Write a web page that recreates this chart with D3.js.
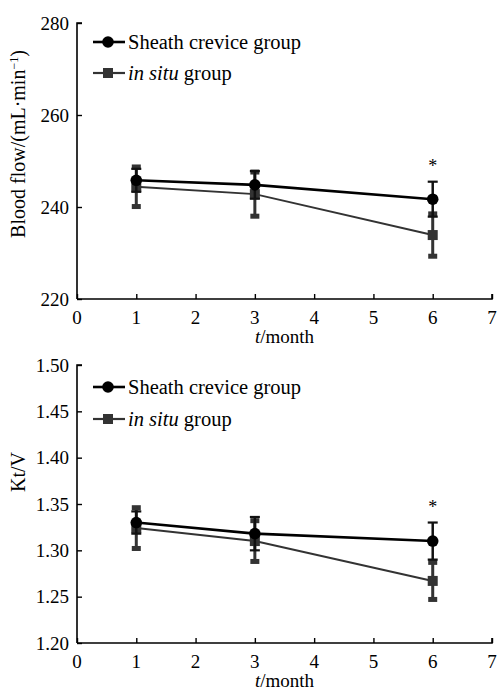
<!DOCTYPE html>
<html><head><meta charset="utf-8">
<script src="https://cdn.jsdelivr.net/npm/d3@7"></script>
<style>
body{margin:0;background:#fff;}
</style></head>
<body><svg id="c" width="499" height="691" font-family="'Liberation Serif', 'DejaVu Serif', 'Times New Roman', Times, serif"></svg>
<script>
const months = [1, 3, 6];
const seriesNames = ["Sheath crevice group", "in situ group"];
// Panel A: Blood flow
const flowSheath = [245.8, 244.8, 241.7];
const flowSheathErr = [2.5, 3.0, 3.8];
const flowInsitu = [244.4, 242.8, 233.9];
const flowInsituErr = [4.3, 4.8, 4.6];
// Panel B: Kt/V
const ktvSheath = [1.330, 1.318, 1.310];
const ktvSheathErr = [0.012, 0.018, 0.020];
const ktvInsitu = [1.324, 1.310, 1.267];
const ktvInsituErr = [0.022, 0.022, 0.020];
const xTicks = [0,1,2,3,4,5,6,7];
const flowTicks = [220, 240, 260, 280];
const ktvTicks = [1.20,1.25,1.30,1.35,1.40,1.45,1.50];
const sigMonth = [6];

const FONT = "'Liberation Serif', 'DejaVu Serif', 'Times New Roman', Times, serif";
const svg = d3.select("#c");
const x = d3.scaleLinear().domain([0,7]).range([77,492]);

function panel(cfg){
  const y = d3.scaleLinear().domain(cfg.domain).range(cfg.range);
  const g = svg.append("g").attr("font-family",FONT);
  // axes
  const yAx = g.append("g").attr("transform","translate(77,0)")
    .call(d3.axisRight(y).tickValues(cfg.ticks).tickSize(5).tickFormat(cfg.fmt));
  yAx.selectAll("text").remove();
  yAx.select(".domain").attr("stroke-width",1.6).attr("d",`M5,${cfg.range[1]}H0V${cfg.range[0]}`);
  yAx.selectAll(".tick line").attr("stroke-width",1.4);
  g.selectAll(".ylab").data(cfg.ticks).join("text")
    .attr("x",69).attr("y",d=>y(d)).attr("dy","0.35em").attr("font-family",FONT)
    .attr("text-anchor","end").attr("font-size",19).text(cfg.fmt);
  const xAx = g.append("g").attr("transform",`translate(0,${cfg.range[0]})`)
    .call(d3.axisTop(x).tickValues(xTicks).tickSize(5).tickFormat(""));
  xAx.select(".domain").attr("stroke-width",1.6).attr("d",`M77,0H492V-5`);
  xAx.selectAll(".tick line").attr("stroke-width",1.4);
  g.selectAll(".xlab").data(xTicks).join("text")
    .attr("x",d=>x(d)).attr("y",cfg.range[0]+18).attr("dy","0.35em").attr("font-family",FONT)
    .attr("text-anchor","middle").attr("font-size",19).text(d=>d);
  const xt = g.append("text").attr("x",x(3.5)).attr("y",cfg.range[0]+37).attr("dy","0.35em")
    .attr("text-anchor","middle").attr("font-size",19).attr("font-family",FONT);
  xt.append("tspan").attr("font-style","italic").text("t");
  xt.append("tspan").text("/month");
  // y title
  const yt = g.append("text").attr("transform",`translate(25,${cfg.ytitleY}) rotate(-90)`)
    .attr("text-anchor","middle").attr("font-size",20).attr("font-family",FONT);
  cfg.ytitle(yt);

  const dIn = months.map((m,i)=>({m,v:cfg.insitu[i],e:cfg.insituErr[i]}));
  const dSh = months.map((m,i)=>({m,v:cfg.sheath[i],e:cfg.sheathErr[i]}));
  const line = d3.line().x(d=>x(d.m)).y(d=>y(d.v));
  const gray = "#333";
  // in situ series
  g.selectAll(".ein").data(dIn).join("line")
    .attr("x1",d=>x(d.m)).attr("x2",d=>x(d.m))
    .attr("y1",d=>y(d.v-d.e)).attr("y2",d=>y(d.v+d.e))
    .attr("stroke",gray).attr("stroke-width",3);
  dIn.forEach(d=>{
    [d.v-d.e,d.v+d.e].forEach(v=>{
      g.append("rect").attr("x",x(d.m)-4.5).attr("y",y(v)-2.5).attr("width",9).attr("height",5).attr("fill",gray);
    });
  });
  g.append("path").datum(dIn).attr("d",line).attr("fill","none").attr("stroke",gray).attr("stroke-width",2);
  g.selectAll(".min").data(dIn).join("rect")
    .attr("x",d=>x(d.m)-5).attr("y",d=>y(d.v)-5).attr("width",10).attr("height",10).attr("fill",gray);
  // sheath series
  g.selectAll(".esh").data(dSh).join("line")
    .attr("x1",d=>x(d.m)).attr("x2",d=>x(d.m))
    .attr("y1",d=>y(d.v-d.e)).attr("y2",d=>y(d.v+d.e))
    .attr("stroke","#111").attr("stroke-width",2.5);
  dSh.forEach(d=>{
    [d.v-d.e,d.v+d.e].forEach(v=>{
      g.append("line").attr("x1",x(d.m)-5).attr("x2",x(d.m)+5).attr("y1",y(v)).attr("y2",y(v))
        .attr("stroke","#111").attr("stroke-width",2.2);
    });
  });
  g.append("path").datum(dSh).attr("d",line).attr("fill","none").attr("stroke","#000").attr("stroke-width",2.6);
  g.selectAll(".msh").data(dSh).join("circle")
    .attr("cx",d=>x(d.m)).attr("cy",d=>y(d.v)).attr("r",5.8).attr("fill","#000");
  // significance
  sigMonth.forEach(m=>{
    const i = months.indexOf(m);
    g.append("text").attr("x",x(m)).attr("y",y(cfg.sheath[i]+cfg.sheathErr[i])-10).attr("font-family",FONT)
      .attr("text-anchor","middle").attr("font-size",18).text("*");
  });
  // legend
  const L = g.append("g");
  const ly = cfg.legendY;
  L.append("line").attr("x1",93).attr("x2",125).attr("y1",ly[0]).attr("y2",ly[0]).attr("stroke","#000").attr("stroke-width",2.6);
  L.append("circle").attr("cx",108).attr("cy",ly[0]).attr("r",5.8).attr("fill","#000");
  L.append("text").attr("x",128).attr("y",ly[0]).attr("dy","0.35em").attr("font-size",20.5).attr("font-family",FONT).text(seriesNames[0]);
  L.append("line").attr("x1",93).attr("x2",125).attr("y1",ly[1]).attr("y2",ly[1]).attr("stroke",gray).attr("stroke-width",2.2);
  L.append("rect").attr("x",103).attr("y",ly[1]-5).attr("width",10).attr("height",10).attr("fill",gray);
  const t2 = L.append("text").attr("x",128).attr("y",ly[1]).attr("dy","0.35em").attr("font-size",20.5).attr("font-family",FONT);
  t2.append("tspan").attr("font-style","italic").text("in situ");
  t2.append("tspan").text(" group");
}

panel({
  domain:[220,280], range:[299,23], ticks:flowTicks, fmt:d=>d,
  sheath:flowSheath, sheathErr:flowSheathErr, insitu:flowInsitu, insituErr:flowInsituErr,
  legendY:[42,73], ytitleY:144,
  ytitle:t=>{ t.append("tspan").text("Blood flow/(mL·min");
    t.append("tspan").attr("dy",-7).attr("font-size",12).text("−1");
    t.append("tspan").attr("dy",7).text(")"); }
});
panel({
  domain:[1.2,1.5], range:[643,365], ticks:ktvTicks, fmt:d3.format(".2f"),
  sheath:ktvSheath, sheathErr:ktvSheathErr, insitu:ktvInsitu, insituErr:ktvInsituErr,
  legendY:[387,419], ytitleY:472,
  ytitle:t=>{ t.text("Kt/V"); }
});
</script></body></html>
